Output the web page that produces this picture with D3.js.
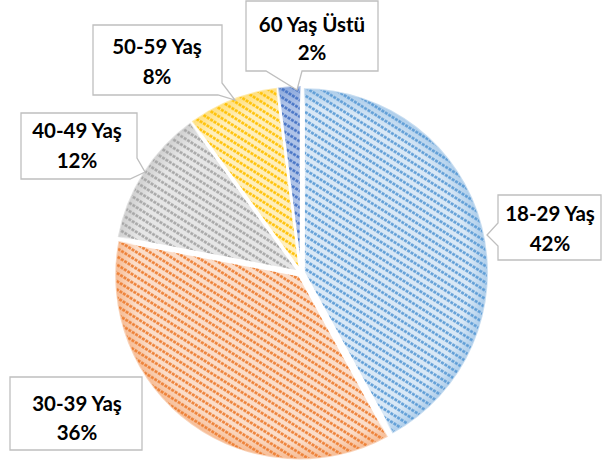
<!DOCTYPE html>
<html><head><meta charset="utf-8">
<script src="https://cdn.jsdelivr.net/npm/d3@7"></script>
<style>body{margin:0;background:#fff}svg{display:block}</style>
</head><body>
<script>
const categories = ["18-29 Yaş","30-39 Yaş","40-49 Yaş","50-59 Yaş","60 Yaş Üstü"];
const values = [42,36,12,8,2];
const colors = ["#5B9BD5","#ED7D31","#A5A5A5","#FFC000","#4472C4"];
const tints = ["#D9E8F6","#FBDDC9","#E6E6E6","#FFEFBC","#AFC3E8"];

// label callout layouts (box, pointer, text centre)
const labelLayout = [
  {path:"M498,195 H601 V260 H498 V246 L487,235 L498,223 Z", cx:550, y1:214, y2:244},
  {path:"M10,377 H142 V450 H10 Z", cx:77, y1:404, y2:433},
  {path:"M21,113 H137 V158 L145,172 L130,179 H21 Z", cx:77, y1:131, y2:161},
  {path:"M93,25 H222 V83 L235,100 L218,95 H93 Z", cx:157, y1:47, y2:77},
  {path:"M246,1 H378 V71 H302 L297,90 L266,71 H246 Z", cx:312, y1:25, y2:53}
];

const W=603,H=468, cx=301, cy=273, R=184, explode=3;
const svg=d3.select("body").append("svg").attr("width",W).attr("height",H);
const defs=svg.append("defs");
colors.forEach((c,i)=>{
  const p=defs.append("pattern").attr("id","pat"+i).attr("patternUnits","userSpaceOnUse")
    .attr("width",8).attr("height",7).attr("patternTransform","rotate(32)");
  p.append("rect").attr("width",8).attr("height",7).attr("fill",tints[i]);
  p.append("line").attr("x1",0).attr("x2",8).attr("y1",3.5).attr("y2",3.5)
    .attr("stroke",c).attr("stroke-width",2.4).attr("stroke-dasharray","3,1");
  const g=defs.append("radialGradient").attr("id","rim"+i).attr("gradientUnits","userSpaceOnUse")
    .attr("cx",0).attr("cy",0).attr("r",R);
  g.append("stop").attr("offset","0.9").attr("stop-color",c).attr("stop-opacity",0);
  g.append("stop").attr("offset","1").attr("stop-color",c).attr("stop-opacity",0.35);
});

const pie=d3.pie().sort(null).value(d=>d)(values);
const arc=d3.arc().innerRadius(0).outerRadius(R);
const g=svg.append("g").attr("transform",`translate(${cx},${cy})`);
const sl=g.selectAll("g.s").data(pie).join("g").attr("class","s")
  .attr("transform",d=>{const a=(d.startAngle+d.endAngle)/2;return `translate(${Math.sin(a)*explode},${-Math.cos(a)*explode})`;});
sl.append("path").attr("d",arc).attr("fill",(d,i)=>`url(#pat${i})`).attr("stroke","#fff").attr("stroke-width",2);
sl.append("path").attr("d",arc).attr("fill",(d,i)=>`url(#rim${i})`);

const total=d3.sum(values), fmt=d3.format(".0%");
const lg=svg.append("g");
labelLayout.forEach((L,i)=>{
  lg.append("path").attr("d",L.path).attr("fill","#fff").attr("stroke","#BFBFBF").attr("stroke-width",1.3);
  const t=lg.append("text").attr("text-anchor","middle").attr("font-family","Lato, 'Open Sans', sans-serif")
    .attr("font-weight","bold").attr("font-size",20.5).attr("fill","#000");
  t.append("tspan").attr("x",L.cx).attr("y",L.y1).attr("dy","0.35em").text(categories[i]);
  t.append("tspan").attr("x",L.cx).attr("y",L.y2).attr("dy","0.35em").text(fmt(values[i]/total));
});
</script>
</body></html>
